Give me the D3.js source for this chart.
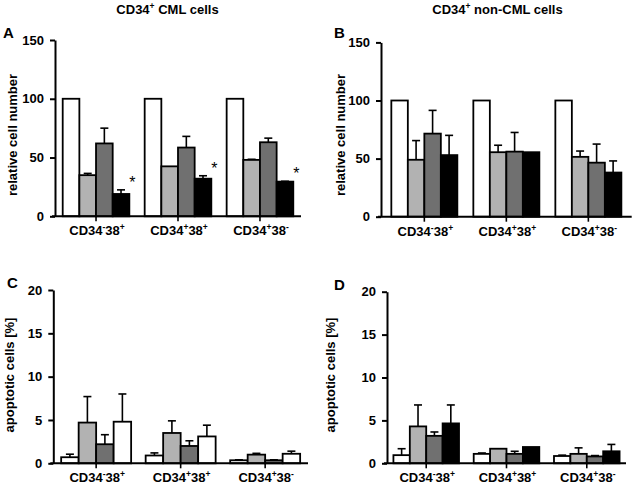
<!DOCTYPE html>
<html><head><meta charset="utf-8">
<script src="https://cdn.jsdelivr.net/npm/d3@7"></script>
<style>
body{margin:0;background:#fff;}
svg{display:block;font-family:Arial,"Liberation Sans",sans-serif;font-weight:bold;}
</style></head>
<body>
<svg id="chart" width="635" height="487"></svg>
<script>
// ---- data ----
const categories = ["CD34-38+", "CD34+38+", "CD34+38-"];
const seriesNames = ["s1", "s2", "s3", "s4"];
const titles = ["CD34+ CML cells", "CD34+ non-CML cells"];
const yTicksCount = [0, 50, 100, 150];
const yTicksApop = [0, 5, 10, 15, 20];

const aMeans = [[100, 35, 62, 19], [100, 42.5, 58.5, 32], [100, 48, 63, 29.5]];
const aErr   = [[0, 1.5, 13, 3.5], [0, 0, 9.5, 2.5], [0, 0.5, 3.5, 0.3]];
const aStars = [3, 3, 3];

const bMeans = [[100, 49, 71.5, 53], [100, 55.5, 56, 55.5], [100, 51.5, 46.5, 38]];
const bErr   = [[0, 16.5, 20, 17], [0, 6, 16.5, 0], [0, 5, 16, 10]];

const cMeans = [[0.7, 4.7, 2.2, 4.8], [0.9, 3.5, 2.0, 3.1], [0.35, 1.0, 0.35, 1.1]];
const cErr   = [[0.35, 3.0, 1.1, 3.2], [0.3, 1.4, 0.6, 1.3], [0.05, 0.15, 0.05, 0.3]];

const dMeans = [[0.95, 4.3, 3.2, 4.65], [1.1, 1.7, 1.1, 1.9], [0.85, 1.1, 0.8, 1.4]];
const dErr   = [[0.75, 2.5, 0.45, 2.15], [0.1, 0, 0.3, 0], [0.1, 0.7, 0.1, 0.8]];

const colorsABD = ["#ffffff", "#b2b2b2", "#707070", "#000000"];
const colorsC   = ["#ffffff", "#b2b2b2", "#707070", "#ffffff"];

// ---- layout ----
const panels = [
  {letter:"A", means:aMeans, errs:aErr, stars:aStars, colors:colorsABD, max:150, ticks:yTicksCount,
   x0:55, x1:301, y0:216.3, yTop:40, padIn:0.187, padOut:0.094, lx:3, ly:38,
   yLabel:"relative cell number", ylx:16.7, yly:135},
  {letter:"B", means:bMeans, errs:bErr, stars:null, colors:colorsABD, max:150, ticks:yTicksCount,
   x0:381, x1:631.7, y0:216.7, yTop:42.4, padIn:0.195, padOut:0.126, lx:334, ly:38,
   yLabel:"relative cell number", ylx:345, yly:135},
  {letter:"C", means:cMeans, errs:cErr, stars:null, colors:colorsC, max:20, ticks:yTicksApop,
   x0:53.3, x1:308, y0:463.3, yTop:290, padIn:0.172, padOut:0.093, lx:7, ly:288,
   yLabel:"apoptotic cells [%]", ylx:13.5, yly:375},
  {letter:"D", means:dMeans, errs:dErr, stars:null, colors:colorsABD, max:20, ticks:yTicksApop,
   x0:387, x1:626, y0:463.3, yTop:291.7, padIn:0.183, padOut:0.08, lx:334, ly:290,
   yLabel:"apoptotic cells [%]", ylx:335, yly:375}
];

const svg = d3.select("#chart");

function supText(sel, str) {
  // split text into normal and superscript +/- parts following digits
  const m = str.match(/^CD34([+-])38([+-])$/);
  const parts = m ? [["CD34",0],[m[1]==="-"?"-":"+",1],["38",0],[m[2]==="-"?"-":"+",1]] : [[str,0]];
  let prevSup = false;
  parts.forEach(([t, s]) => {
    const ts = sel.append("tspan").text(t);
    if (s) { ts.attr("font-size", "8.5px").attr("dy", -5); prevSup = true; }
    else if (prevSup) { ts.attr("dy", 5); prevSup = false; }
  });
}

// titles
const t1 = svg.append("text").attr("x", 167.5).attr("y", 14).attr("text-anchor", "middle").attr("font-size", "13px");
t1.append("tspan").text("CD34");
t1.append("tspan").text("+").attr("font-size", "8.5px").attr("dy", -5);
t1.append("tspan").text(" CML cells").attr("dy", 5);
const t2 = svg.append("text").attr("x", 497.5).attr("y", 13.5).attr("text-anchor", "middle").attr("font-size", "13px");
t2.append("tspan").text("CD34");
t2.append("tspan").text("+").attr("font-size", "8.5px").attr("dy", -5);
t2.append("tspan").text(" non-CML cells").attr("dy", 5);

panels.forEach(p => {
  const g = svg.append("g");
  const x = d3.scaleBand().domain(categories).range([p.x0, p.x1]).paddingInner(p.padIn).paddingOuter(p.padOut);
  const xs = d3.scaleBand().domain(seriesNames).range([0, x.bandwidth()]);
  const y = d3.scaleLinear().domain([0, p.max]).range([p.y0, p.yTop]);

  // bars
  categories.forEach((c, ci) => {
    const gg = g.append("g").attr("transform", `translate(${x(c)},0)`);
    const rows = seriesNames.map((s, si) => ({s, si, v: p.means[ci][si], e: p.errs[ci][si]}));
    // error bars
    rows.filter(r => r.e > 0).forEach(r => {
      const cx = xs(r.s) + xs.bandwidth() / 2;
      gg.append("line").attr("x1", cx).attr("x2", cx).attr("y1", y(r.v)).attr("y2", y(r.v + r.e))
        .attr("stroke", "#000").attr("stroke-width", 1.6);
      gg.append("line").attr("x1", cx - 4).attr("x2", cx + 4).attr("y1", y(r.v + r.e)).attr("y2", y(r.v + r.e))
        .attr("stroke", "#000").attr("stroke-width", 1.6);
    });
    gg.selectAll("rect").data(rows).join("rect")
      .attr("x", r => xs(r.s)).attr("width", xs.bandwidth())
      .attr("y", r => y(r.v)).attr("height", r => y(0) - y(r.v))
      .attr("fill", r => p.colors[r.si]).attr("stroke", "#000").attr("stroke-width", 1.8);
    if (p.stars) {
      const si = p.stars[ci];
      const r = rows[si];
      gg.append("text").attr("x", xs(r.s) + xs.bandwidth() + 3).attr("y", y(r.v + r.e) - 11 + 9)
        .attr("text-anchor", "middle").attr("font-size", "16px").attr("font-weight", "normal").text("*");
    }
  });

  // y axis
  const ya = g.append("g").attr("transform", `translate(${p.x0},0)`)
    .call(d3.axisLeft(y).tickValues(p.ticks).tickSize(5).tickSizeOuter(0).tickPadding(6).tickFormat(d3.format("d")));
  ya.select(".domain").attr("stroke", "#000").attr("stroke-width", 2);
  ya.selectAll(".tick line").attr("stroke", "#000").attr("stroke-width", 2);
  ya.selectAll(".tick text").attr("font-size", "13px").attr("font-family", null).attr("font-weight", "bold").attr("fill", "#000");

  // x axis
  const xa = g.append("g").attr("transform", `translate(0,${p.y0})`)
    .call(d3.axisBottom(x).tickSize(5).tickSizeOuter(0).tickFormat(""));
  xa.select(".domain").attr("stroke", "#000").attr("stroke-width", 2).attr("d", `M${p.x0 - 3},0H${p.x1}`);
  xa.selectAll(".tick line").attr("stroke", "#000").attr("stroke-width", 1.6);
  xa.selectAll(".tick text").remove();
  categories.forEach(c => {
    const t = g.append("text").attr("x", x(c) + x.bandwidth() / 2 + 1).attr("y", p.y0 + 19)
      .attr("text-anchor", "middle").attr("font-size", "13px");
    supText(t, c);
  });

  // y label
  g.append("text").attr("transform", `translate(${p.ylx},${p.yly}) rotate(-90)`)
    .attr("text-anchor", "middle").attr("font-size", "13px").text(p.yLabel);
  // panel letter
  g.append("text").attr("x", p.lx).attr("y", p.ly).attr("font-size", "15px").text(p.letter);
});
</script>
</body></html>
